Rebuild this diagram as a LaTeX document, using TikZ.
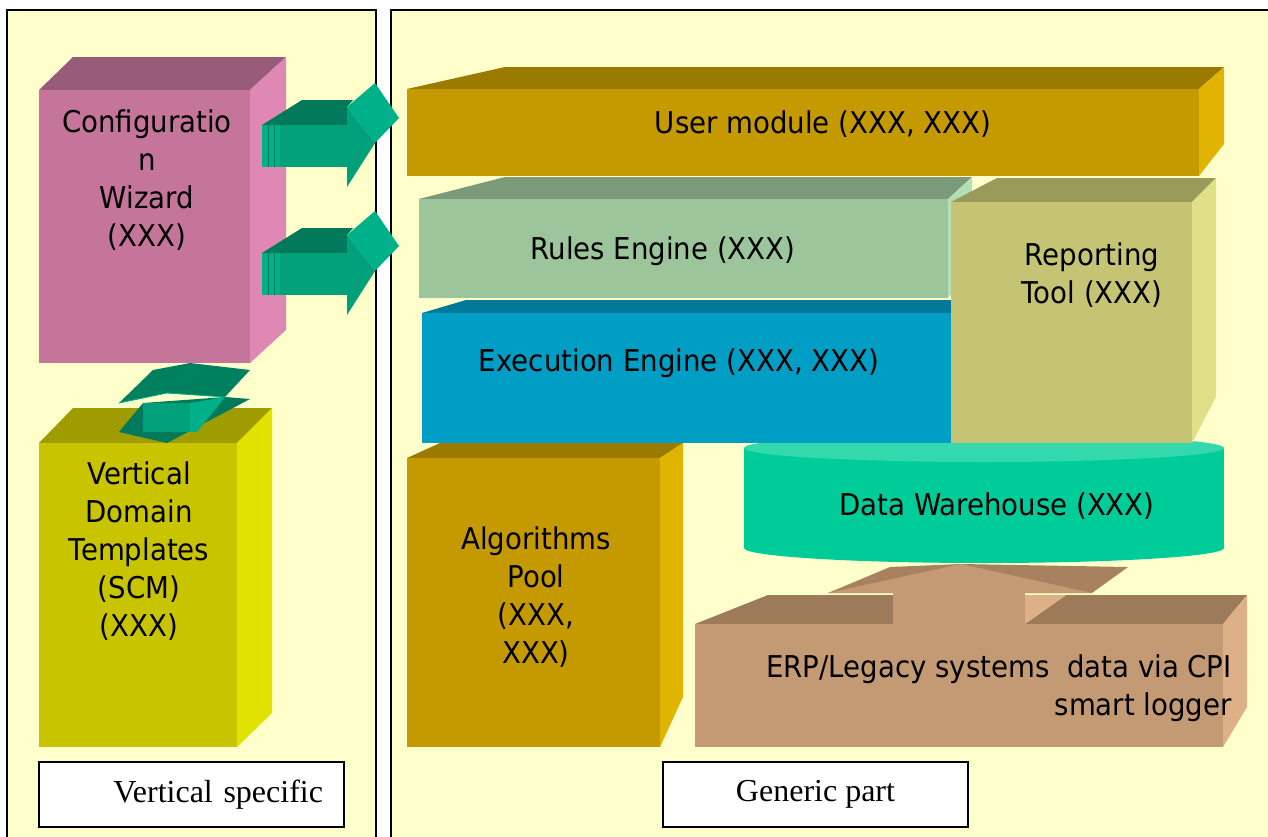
\documentclass[tikz,border=0pt]{standalone}
\usepackage{fontspec}
\newfontfamily\tah{DejaVu Sans}[FakeStretch=0.92]
\newfontfamily\tms{Liberation Serif}
\definecolor{panel}{HTML}{FFFFCC}
\definecolor{cfgF}{HTML}{C47599}\definecolor{cfgT}{HTML}{985C7A}\definecolor{cfgR}{HTML}{E088B4}
\definecolor{vdtF}{HTML}{C8C400}\definecolor{vdtT}{HTML}{9E9C00}\definecolor{vdtR}{HTML}{E2E200}
\definecolor{ochF}{HTML}{C49A00}\definecolor{ochT}{HTML}{9A7A00}\definecolor{ochR}{HTML}{E0B400}
\definecolor{rulF}{HTML}{9DC59B}\definecolor{rulT}{HTML}{7A9A7A}\definecolor{rulR}{HTML}{B3E0B3}
\definecolor{exeF}{HTML}{009DC4}\definecolor{exeT}{HTML}{007898}
\definecolor{repF}{HTML}{C4C474}\definecolor{repT}{HTML}{9A9A5A}\definecolor{repR}{HTML}{E0E088}
\definecolor{dwB}{HTML}{00CC99}\definecolor{dwT}{HTML}{33D9AD}
\definecolor{erpF}{HTML}{C49A74}\definecolor{erpT}{HTML}{9C7A5A}\definecolor{erpR}{HTML}{DEB088}\definecolor{erpH}{HTML}{A8825E}
\definecolor{arF}{HTML}{00A07A}\definecolor{arT}{HTML}{007A5A}\definecolor{arS}{HTML}{00B088}
\newcommand\greenarrow{%
  \fill[arS] (262,125) rectangle (280,167);
  \draw[arT, line width=0.6pt] (268,125) -- (268,167) (274,125) -- (274,167);
  \fill[arT] (262,125) -- (302,100) -- (353,100) -- (347,107) -- (347,125) -- cycle;
  \fill[arF] (280,125) rectangle (347,167);
  \fill[arS] (347,107) -- (375,83) -- (399,118) -- (375,143) -- cycle;
  \fill[arF] (347,107) -- (375,143) -- (347,187) -- cycle;
}
\begin{document}
\begin{tikzpicture}[x=0.75pt,y=-0.75pt,
  txt/.style={font={\tah\fontsize{22.5}{28.5}\selectfont}, align=center, inner sep=0pt},
  lbl/.style={draw=black, line width=1pt, fill=white, font={\tms\fontsize{24}{28}\selectfont},
    minimum width=228.75pt, minimum height=48.75pt, inner sep=0pt},
  paneldraw/.style={draw=black, line width=1.1pt, fill=panel}]
\useasboundingbox (0,0) rectangle (1268,836);
\fill[white] (0,0) rectangle (1268,836);
\draw[paneldraw] (7,10) rectangle (376,860);
\draw[paneldraw] (391,10) rectangle (1290,860);

% Configuration Wizard box
\fill[cfgT] (39,90) -- (73,57) -- (286,57) -- (250,90) -- cycle;
\fill[cfgR] (250,90) -- (286,57) -- (286,330) -- (250,363) -- cycle;
\fill[cfgF] (39,90) rectangle (250,363);
\node[txt] (cfg) at (147,180) {Configuratio\\n\\Wizard\\(XXX)};

% Vertical Domain Templates box
\fill[vdtT] (39,443) -- (73,408) -- (272,408) -- (237,443) -- cycle;
\fill[vdtR] (237,443) -- (272,408) -- (272,713) -- (237,747) -- cycle;
\fill[vdtF] (39,443) rectangle (237,747);
\node[txt] (vdt) at (139,551) {Vertical\\Domain\\Templates\\(SCM)\\(XXX)};

% up arrow
\fill[arT] (119,432) -- (167,443) -- (250,399) -- (225,397) -- (143,403) -- cycle;
\fill[arF] (143,403) rectangle (190,432);
\fill[arS] (190,403) -- (225,397) -- (197,432) -- (190,432) -- cycle;
\fill[arT!85!arF] (119,403) -- (153,370) -- (190,363) -- (250,370) -- (225,397) -- (167,393) -- cycle;
\draw[arS, line width=0.6pt] (119,403) -- (167,393) -- (225,397);

% right arrows
\greenarrow
\begin{scope}[shift={(0,128)}]\greenarrow\end{scope}

% Data Warehouse cylinder
\fill[dwB] (984,548) ellipse [x radius=240, y radius=15];
\fill[dwB] (744,448) rectangle (1224,548);
\fill[dwT] (984,448) ellipse [x radius=240, y radius=14];
\node[txt] (dw) at (997,506) {Data Warehouse (XXX)};

% Algorithms Pool
\fill[ochT] (407,458) -- (440,443) -- (683,443) -- (660,458) -- cycle;
\fill[ochR] (660,458) -- (683,443) -- (683,697) -- (660,747) -- cycle;
\fill[ochF] (407,458) rectangle (660,747);
\node[txt] (alg) at (536,597) {Algorithms\\Pool\\(XXX,\\XXX)};

% ERP box with arrow
\fill[erpH] (828,593) -- (890,567) -- (961,564) -- (1128,567) -- (1092,593) -- cycle;
\fill[erpF] (828,593) -- (961,564) -- (1092,593) -- cycle;
\fill[erpT] (695,624) -- (768,595) -- (893,595) -- (893,624) -- cycle;
\fill[erpT] (1025,624) -- (1066,595) -- (1247,595) -- (1223,624) -- cycle;
\fill[erpR] (1223,624) -- (1247,595) -- (1247,707) -- (1223,747) -- cycle;
\fill[erpF] (893,593) rectangle (1025,624);
\fill[erpR] (1025,595) -- (1066,595) -- (1025,624) -- cycle;
\fill[erpF] (695,624) rectangle (1223,747);
\node[txt, align=right, anchor=east] (erp) at (1232,688) {ERP/Legacy systems\ \ data via CPI\\smart logger};

% User module
\fill[ochT] (407,89) -- (505,67) -- (1224,67) -- (1199,89) -- cycle;
\fill[ochR] (1199,89) -- (1224,67) -- (1224,144) -- (1199,176) -- cycle;
\fill[ochF] (407,89) rectangle (1199,176);
\node[txt] (user) at (823,124) {User module (XXX, XXX)};

% Rules Engine
\fill[rulT] (419,199) -- (505,177) -- (972,177) -- (948,199) -- cycle;
\fill[rulR] (948,199) -- (972,177) -- (972,270) -- (948,298) -- cycle;
\fill[rulF] (419,199) rectangle (948,298);
\node[txt] (rules) at (663,251) {Rules Engine (XXX)};

% Execution Engine
\fill[exeT] (422,313) -- (466,300) -- (975,300) -- (950,313) -- cycle;
\fill[exeF] (422,313) rectangle (951,443);
\node[txt] (exec) at (679,363) {Execution Engine (XXX, XXX)};

% Reporting Tool
\fill[repT] (951,202) -- (997,178) -- (1216,178) -- (1192,202) -- cycle;
\fill[repR] (1192,202) -- (1216,178) -- (1216,397) -- (1192,443) -- cycle;
\fill[repF] (951,202) rectangle (1192,443);
\node[txt] (rep) at (1092,275) {Reporting\\Tool (XXX)};

% bottom labels
\node[lbl, text width=197.25pt, align=right, inner xsep=15.75pt] (vs) at (191.5,794.5) {Vertical specific};
\node[lbl, align=center] (gp) at (815.5,794.5) {Generic part};
\end{tikzpicture}
\end{document}
